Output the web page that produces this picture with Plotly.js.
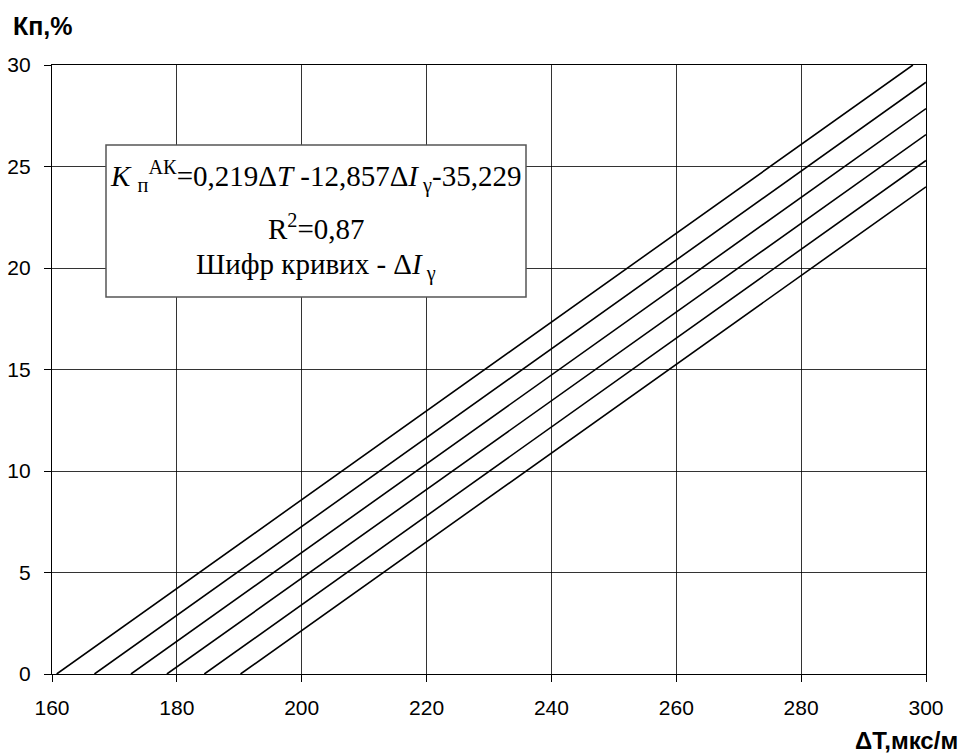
<!DOCTYPE html>
<html><head><meta charset="utf-8">
<script src="https://cdn.plot.ly/plotly-3.0.1.min.js"></script>
<style>body{margin:0;background:#fff}#c{width:963px;height:756px}</style>
</head><body><div id="c"></div>
<script>
// Curve code (ΔIγ) and endpoints
const curveCodes = [0, 0.1, 0.2, 0.3, 0.4, 0.5];
const xStart = [160.75, 166.8, 172.65, 178.4, 184.4, 190.2];
const yStart = [0, 0, 0, 0, 0, 0];
const xEnd = [297.9, 300, 300, 300, 300, 300];
const yEnd = [30, 29.15, 27.85, 26.57, 25.3, 24.0];
const xTicks = [160, 180, 200, 220, 240, 260, 280, 300];
const yTicks = [0, 5, 10, 15, 20, 25, 30];
const boxLines = [
  '<i>K</i> <sub>п</sub><sup>АК</sup>=0,219Δ<i>T</i> -12,857Δ<i>I</i><sub> γ</sub>-35,229',
  'R<sup>2</sup>=0,87',
  'Шифр кривих - Δ<i>I</i><sub> γ</sub>'
];

const traces = curveCodes.map((c, i) => ({
  x: [xStart[i], xEnd[i]], y: [yStart[i], yEnd[i]],
  mode: 'lines', type: 'scatter', name: String(c),
  line: {color: '#000', width: 1.6}, hoverinfo: 'skip'
}));

const axisCommon = {
  showline: true, linecolor: '#000', linewidth: 1.2, mirror: true,
  showgrid: true, gridcolor: '#000', gridwidth: 0.8,
  ticks: 'outside', ticklen: 7, tickcolor: '#000', tickwidth: 1,
  tickfont: {family: "'Liberation Sans', Arial, sans-serif", size: 21, color: '#000'},
  zeroline: false
};

const W = 874, H = 609, L = 52, T = 65;
const px = v => (v - L) / W;          // pixel x -> paper
const py = v => (T + H - v) / H;      // pixel y -> paper
const serif = "'Liberation Serif', 'Times New Roman', 'DejaVu Serif', serif";
const lineY = [176, 227, 266];

const annotations = boxLines.map((t, i) => ({
  xref: 'paper', yref: 'paper', x: px(316), y: py(lineY[i]), xanchor: 'center', yanchor: 'middle',
  text: t, showarrow: false, font: {family: serif, size: 29, color: '#000'}
}));
annotations.push(
  {xref: 'paper', yref: 'paper', x: px(11), y: py(26), xanchor: 'left', yanchor: 'middle',
   text: '<b>Кп,%</b>', showarrow: false,
   font: {family: "'Liberation Sans', Arial, sans-serif", size: 25, color: '#000'}},
  {xref: 'paper', yref: 'paper', x: px(960), y: py(740), xanchor: 'right', yanchor: 'middle',
   text: '<b>ΔT,мкс/м</b>', showarrow: false,
   font: {family: "'Liberation Sans', Arial, sans-serif", size: 24, color: '#000'}}
);

const layout = {
  width: 963, height: 756,
  margin: {l: L, r: 963 - L - W, t: T, b: 756 - T - H},
  paper_bgcolor: '#fff', plot_bgcolor: '#fff',
  showlegend: false,
  xaxis: Object.assign({}, axisCommon, {range: [160, 300], tickvals: xTicks, ticktext: xTicks.map(String), ticklabelstandoff: 8}),
  yaxis: Object.assign({}, axisCommon, {range: [0, 30], tickvals: yTicks, ticktext: yTicks.map(String), ticklabelstandoff: 9}),
  shapes: [{type: 'rect', xref: 'paper', yref: 'paper', layer: 'above',
    x0: px(106), x1: px(526), y0: py(297), y1: py(145),
    line: {color: '#555', width: 1.5}, fillcolor: '#fff'}],
  annotations: annotations
};

Plotly.newPlot('c', traces, layout, {staticPlot: true});
</script></body></html>
